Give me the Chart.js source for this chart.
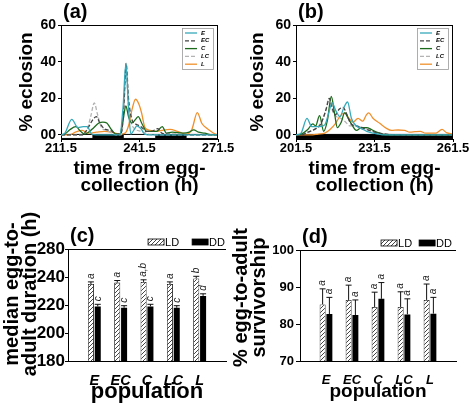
<!DOCTYPE html>
<html>
<head>
<meta charset="utf-8">
<script src="https://cdn.jsdelivr.net/npm/chart.js@4.4.0/dist/chart.umd.min.js"></script>
<style>
  body { margin: 0; background: #fff; }
  .panel { position: absolute; }
</style>
</head>
<body>
<div class="panel" style="left:0px;top:0px;width:235px;height:200px"><canvas id="chartA"></canvas></div>
<div class="panel" style="left:235px;top:0px;width:235px;height:200px"><canvas id="chartB"></canvas></div>
<div class="panel" style="left:0px;top:200px;width:235px;height:203px"><canvas id="chartC"></canvas></div>
<div class="panel" style="left:225px;top:200px;width:245px;height:203px"><canvas id="chartD"></canvas></div>
<script>
// ---- (a) eclosion under LD (hours from egg collection, % eclosion)
var ldHoursE = [211.5, 213, 215.6, 218, 220, 221.5, 223.2, 225, 234, 235.2, 236.3, 237.3, 238.2, 239.5, 240.5, 242, 243.5, 246, 271.5];
var ldEclE   = [0, 1, 8.5, 4, 4.5, 4.5, 0.5, 0, 0, 15, 39, 15, 0.5, 3, 5, 3.5, 0.5, 0, 0];
var ldHoursEC = [211.5, 219.5, 221.5, 223.5, 225, 226.5, 228.5, 230.5, 232.5, 234.5, 235.5, 236.4, 237.3, 238.5, 240, 241.5, 242.5, 244, 246, 248.5, 250, 252, 271.5];
var ldEclEC   = [0, 0, 3, 8, 10, 6, 3, 2.5, 0.5, 1, 15, 39, 20, 9, 6, 5, 4, 2, 2, 3.5, 1, 0.5, 0];
var ldHoursC = [211.5, 213, 215, 217.2, 219, 220.5, 222, 224, 226, 227.5, 229, 230.5, 232.5, 234, 235.2, 236.3, 237.3, 238.5, 240, 241, 242.5, 244.2, 246, 248, 250.2, 251.8, 254, 258, 260.5, 262.2, 264, 266.5, 268.5, 271.5];
var ldEclC   = [0, 0.5, 3, 4.5, 2, 0.5, 1.5, 4, 6.5, 7, 6.5, 3.5, 0.5, 0.5, 8, 15.8, 10, 6.5, 8.5, 10, 6, 2, 2, 2, 4.5, 1, 1.5, 1, 1.5, 2.8, 1.5, 1, 0.2, 0];
var ldHoursLC = [211.5, 219.5, 221.5, 223, 224.2, 225.5, 227, 229, 231, 232.5, 234.5, 235.5, 236.3, 237.3, 238.5, 240, 242, 244, 246, 271.5];
var ldEclLC   = [0, 0, 3, 11, 17.5, 11, 4, 2.5, 1, 0, 0, 12, 36, 15, 6, 3, 2, 1, 0, 0];
var ldHoursL = [211.5, 214.5, 217, 219.5, 222, 225, 228, 231, 234, 236, 237.5, 238.5, 240, 241.2, 242.3, 243.6, 245.5, 248, 250, 253.2, 256, 259.5, 261.5, 263.6, 265.3, 267.2, 269, 270.5, 271.5];
var ldEclL   = [0, 0, 1.5, 2.5, 1, 1.5, 2, 1.5, 0.5, 1, 6, 13, 19.5, 17, 12, 4, 2.5, 2, 2.5, 3, 2, 0.5, 3, 12.2, 6.4, 3.7, 1.8, 0.5, 0];
var ldDark = [[223.5, 235.5], [247.5, 259.5]];
var ldXTicks = [211.5, 241.5, 271.5];

// ---- (b) eclosion under DD
var ddHoursE = [201.5, 203.4, 205.7, 207.5, 210.5, 212.5, 214, 215.3, 216.8, 218.3, 219.8, 221.2, 222.7, 224.5, 226.5, 228.5, 231, 233, 235, 261.5];
var ddEclE   = [0, 1, 9, 4.5, 4.5, 5.5, 12, 17.5, 13, 10, 15, 18, 9, 5, 3.5, 2, 1, 0.5, 0, 0];
var ddHoursEC = [201.5, 203.5, 206, 208.5, 211, 213, 214.3, 215.5, 216.5, 218, 219.5, 221, 222.5, 224.5, 226.5, 228.5, 230.5, 233, 236, 240, 261.5];
var ddEclEC   = [0, 0, 1.5, 3, 6, 14, 20, 14, 11, 14, 15, 11, 6, 5, 4, 3, 2, 1, 0.5, 0, 0];
var ddHoursC = [201.5, 203.5, 206, 207.9, 209, 210.5, 212.1, 213.5, 215, 216.2, 217.3, 218.8, 220.1, 221.5, 222.7, 224.6, 226.5, 228.5, 230.3, 232.3, 234.5, 237, 261.5];
var ddEclC   = [0, 0.5, 3, 6, 5, 10.5, 2, 8, 21, 12, 4, 7, 12, 9, 6, 2.5, 4, 4, 3, 1.5, 0.5, 0, 0];
var ddHoursLC = [201.5, 204, 207, 209.5, 211.5, 213, 214, 215.5, 217, 218.8, 220.5, 222, 223.5, 225.2, 227, 229, 231, 233.5, 236, 261.5];
var ddEclLC   = [0, 0.5, 2, 4, 8, 14, 20, 13, 10, 9, 7, 5, 5, 5, 4, 3, 2, 1, 0.3, 0];
var ddHoursL = [201.5, 207, 210, 212.5, 214.5, 216.5, 218.2, 220.1, 221.8, 223.3, 225.2, 227, 228.4, 229.3, 231, 233.5, 236.1, 238, 240.5, 243, 245, 247, 249, 251, 253, 255, 257.3, 259, 261.5];
var ddEclL   = [0, 0, 0.5, 1, 3, 6, 10, 12, 9, 7, 9, 7.5, 11, 12, 9, 6.4, 3.6, 2.5, 2.7, 2.5, 1.5, 1.8, 2, 1, 1, 1, 3, 1.3, 0.5];
var ddDark = [[201.5, 261.5]];
var ddXTicks = [201.5, 231.5, 261.5];

var eclTicks = [0, 20, 40, 60];
var eclTickLabels = ['00', '20', '40', '60'];

// ---- (c) median egg-to-adult duration (h), (d) % survivorship
var populations = ['E', 'EC', 'C', 'LC', 'L'];
var durLD = [235, 236, 236.5, 235, 239];
var durLDErr = [1.5, 1.5, 1.5, 1.5, 1.5];
var durLDLetters = ['a', 'a', 'a,b', 'a', 'b'];
var durDD = [219, 218, 219, 218, 226.5];
var durDDErr = [1.5, 1.5, 1.5, 1.5, 1.5];
var durDDLetters = ['c', 'c', 'c', 'c', 'd'];
var durTicks = [180, 200, 220, 240, 260];
var durTickLabels = ['180', '200', '220', '240', '280'];

var survLD = [85.3, 86.5, 84.6, 84.6, 86.5];
var survLDErr = [4.2, 4.0, 4.0, 4.1, 4.3];
var survDD = [82.7, 82.4, 86.8, 82.6, 82.8];
var survDDErr = [4.5, 4.1, 4.4, 4.2, 4.4];
var survLetters = ['a', 'a', 'a', 'a', 'a'];
var survTicks = [70, 80, 90, 100];

var popColors = { E: '#35a9ba', EC: '#444444', C: '#1d6a1d', LC: '#b3b3b3', L: '#f0902c' };
var FONT = "'Liberation Sans', Arial, Helvetica, sans-serif";

Chart.defaults.font.family = FONT;
Chart.defaults.color = '#000';

function pts(h, v) {
    return h.map(function (x, i) { return { x: x, y: v[i] }; });
}
function pad(arr) {
    return [null].concat(arr, [null]);
}

function makeHatch() {
    var c = document.createElement('canvas');
    c.width = 4; c.height = 4;
    var g = c.getContext('2d');
    g.fillStyle = '#fff';
    g.fillRect(0, 0, 4, 4);
    g.strokeStyle = '#444';
    g.lineWidth = 1;
    g.beginPath();
    g.moveTo(0, 4); g.lineTo(4, 0);
    g.moveTo(-1, 1); g.lineTo(1, -1);
    g.moveTo(3, 5); g.lineTo(5, 3);
    g.stroke();
    return g.createPattern(c, 'repeat');
}
var hatch = makeHatch();

// light/dark bar under the eclosion curves
const phaseBar = {
    id: 'phaseBar',
    beforeDatasetsDraw(chart, args, opts) {
        const ctx = chart.ctx, x = chart.scales.x, y = chart.scales.y;
        const top = y.getPixelForValue(0.3), bot = y.getPixelForValue(-1.9);
        ctx.save();
        ctx.fillStyle = '#fff';
        ctx.fillRect(x.left, top, x.right - x.left, bot - top);
        ctx.strokeStyle = '#000';
        ctx.lineWidth = 1;
        ctx.strokeRect(x.left + 0.5, top, x.right - x.left - 1, bot - top);
        ctx.fillStyle = '#000';
        opts.dark.forEach(function (p) {
            const a = x.getPixelForValue(p[0]), b = x.getPixelForValue(p[1]);
            ctx.fillRect(a, top, b - a, bot - top);
        });
        ctx.restore();
    }
};

// top / right edges of the plot box
const frame = {
    id: 'frame',
    afterDraw(chart, args, opts) {
        const ctx = chart.ctx, a = chart.chartArea;
        ctx.save();
        ctx.strokeStyle = '#000';
        ctx.lineWidth = 1;
        ctx.beginPath();
        if (opts.top) { ctx.moveTo(a.left, Math.round(a.top) + 0.5); ctx.lineTo(a.right, Math.round(a.top) + 0.5); }
        if (opts.right) { ctx.moveTo(Math.round(a.right) - 0.5, a.top); ctx.lineTo(Math.round(a.right) - 0.5, a.bottom); }
        ctx.stroke();
        ctx.restore();
    }
};

// panel letter, legends, and (for the bar panels) the y title
const decor = {
    id: 'decor',
    afterDraw(chart, args, opts) {
        const ctx = chart.ctx, a = chart.chartArea;
        ctx.save();
        ctx.fillStyle = '#000';
        ctx.font = 'bold 20px ' + FONT;
        ctx.textBaseline = 'middle';
        ctx.textAlign = 'left';
        ctx.fillText(opts.letter, a.left + 2, a.top - 13);

        if (opts.yTitle) {
            const t = opts.yTitle;
            ctx.save();
            ctx.translate(t.x, (a.top + a.bottom) / 2 + t.dy);
            ctx.rotate(-Math.PI / 2);
            ctx.textAlign = 'center';
            ctx.font = 'bold ' + t.size + 'px ' + FONT;
            t.text.forEach(function (line, i) {
                ctx.fillText(line, 0, i * t.lineH);
            });
            ctx.restore();
        }

        if (opts.legend === 'inside') {
            const x0 = a.right - 36, y0 = a.top + 3, w = 31, h = 41;
            ctx.fillStyle = '#fff';
            ctx.fillRect(x0, y0, w, h);
            ctx.strokeStyle = '#999';
            ctx.lineWidth = 0.8;
            ctx.strokeRect(x0 + 0.5, y0 + 0.5, w, h);
            ctx.font = 'italic bold 6px ' + FONT;
            chart.data.datasets.forEach(function (ds, i) {
                const y = y0 + 5 + i * 7.8;
                ctx.strokeStyle = ds.borderColor;
                ctx.lineWidth = 1.3;
                ctx.setLineDash(ds.borderDash || []);
                ctx.beginPath();
                ctx.moveTo(x0 + 3, y);
                ctx.lineTo(x0 + 15, y);
                ctx.stroke();
                ctx.setLineDash([]);
                ctx.fillStyle = '#000';
                ctx.fillText(ds.label, x0 + 19, y);
            });
        } else if (opts.legend === 'top') {
            const y = a.top - 7;
            ctx.font = '11px ' + FONT;
            let right = a.right - opts.inset;
            const items = chart.data.datasets.slice().reverse();
            items.forEach(function (ds) {
                const tw = ctx.measureText(ds.label).width;
                const tx = right - tw;
                ctx.fillStyle = '#000';
                ctx.fillText(ds.label, tx, y + 0.5);
                ctx.fillStyle = ds.backgroundColor;
                ctx.fillRect(tx - 17, y - 3, 16, 6);
                ctx.strokeStyle = '#000';
                ctx.lineWidth = 0.8;
                ctx.strokeRect(tx - 17, y - 3, 16, 6);
                right = tx - 17 - opts.gap;
            });
        }
        ctx.restore();
    }
};

// one-sided error bars with significance letters
const errorBars = {
    id: 'errorBars',
    afterDatasetsDraw(chart) {
        const ctx = chart.ctx, yScale = chart.scales.y;
        ctx.save();
        chart.data.datasets.forEach(function (ds, di) {
            const meta = chart.getDatasetMeta(di);
            meta.data.forEach(function (bar, i) {
                const v = ds.data[i];
                if (v == null) return;
                const top = yScale.getPixelForValue(v + ds.errors[i]);
                const half = bar.width / 2;
                ctx.strokeStyle = '#111';
                ctx.lineWidth = 1;
                ctx.beginPath();
                ctx.moveTo(bar.x, bar.y);
                ctx.lineTo(bar.x, top);
                ctx.moveTo(bar.x - half, top);
                ctx.lineTo(bar.x + half, top);
                ctx.stroke();
                ctx.save();
                ctx.translate(bar.x, top - 3);
                ctx.rotate(-Math.PI / 2);
                ctx.font = 'italic 10px ' + FONT;
                ctx.fillStyle = '#222';
                ctx.textAlign = 'left';
                ctx.textBaseline = 'middle';
                ctx.fillText(ds.letters[i], 0, 0);
                ctx.restore();
            });
        });
        ctx.restore();
    }
};

function lineSet(label, h, v, dashed) {
    return {
        label: label,
        data: pts(h, v),
        borderColor: popColors[label],
        borderWidth: 1.3,
        borderDash: dashed ? [4, 2] : [],
        pointRadius: 0,
        fill: false,
        cubicInterpolationMode: 'monotone'
    };
}

function eclosionChart(id, sets, xMin, xMax, xTicks, dark, letter, yTitlePad) {
    const ctx = document.getElementById(id).getContext('2d');
    return new Chart(ctx, {
        type: 'line',
        data: { datasets: sets },
        plugins: [phaseBar, frame, decor],
        options: {
            responsive: true,
            maintainAspectRatio: false,
            animation: false,
            events: [],
            layout: { padding: { top: 25, right: 17, left: 0, bottom: 0 } },
            plugins: {
                legend: { display: false },
                tooltip: { enabled: false },
                phaseBar: { dark: dark },
                frame: { top: true, right: true },
                decor: { letter: letter, legend: 'inside' }
            },
            scales: {
                x: {
                    type: 'linear',
                    min: xMin,
                    max: xMax,
                    afterBuildTicks: function (s) { s.ticks = xTicks.map(function (v) { return { value: v }; }); },
                    afterFit: function (s) { s.height = 61; },
                    ticks: { font: { size: 13, weight: 'bold', lineHeight: 1 }, padding: 0, maxRotation: 0, autoSkip: false,
                             callback: function (v) { return String(v); } },
                    grid: { drawOnChartArea: false, tickLength: 3, color: '#000' },
                    border: { color: '#000', width: 1 },
                    title: { display: true, text: ['time from egg-', 'collection (h)'],
                             font: { size: 19, weight: 'bold', lineHeight: 0.9 }, padding: { top: 0, bottom: 6 } }
                },
                y: {
                    min: -2.2,
                    max: 60,
                    afterBuildTicks: function (s) { s.ticks = eclTicks.map(function (v) { return { value: v }; }); },
                    afterFit: function (s) { s.width = 61; },
                    ticks: { font: { size: 14, weight: 'bold' }, padding: 2,
                             callback: function (v, i) { return eclTickLabels[i]; } },
                    grid: { drawOnChartArea: false, tickLength: 3, color: '#000' },
                    border: { color: '#000', width: 1 },
                    title: { display: true, text: '% eclosion', font: { size: 19, weight: 'bold', lineHeight: 1 },
                             padding: { top: yTitlePad, bottom: 0 } }
                }
            }
        }
    });
}

function barChart(id, o) {
    const ctx = document.getElementById(id).getContext('2d');
    return new Chart(ctx, {
        type: 'bar',
        data: {
            labels: [''].concat(populations, ['']),
            datasets: [
                { label: 'LD', data: pad(o.ld), errors: pad(o.ldErr), letters: pad(o.ldLetters),
                  backgroundColor: hatch, borderColor: '#000', borderWidth: 0.8,
                  categoryPercentage: 0.52, barPercentage: 0.88 },
                { label: 'DD', data: pad(o.dd), errors: pad(o.ddErr), letters: pad(o.ddLetters),
                  backgroundColor: '#000', borderColor: '#000', borderWidth: 0,
                  categoryPercentage: 0.52, barPercentage: 0.88 }
            ]
        },
        plugins: [errorBars, frame, decor],
        options: {
            responsive: true,
            maintainAspectRatio: false,
            animation: false,
            events: [],
            layout: { padding: { top: o.top, right: o.right, left: 0, bottom: 0 } },
            plugins: {
                legend: { display: false },
                tooltip: { enabled: false },
                frame: { top: true, right: false },
                decor: { letter: o.letter, legend: 'top', gap: o.legendGap, inset: o.legendInset,
                         yTitle: { text: o.yTitle, x: o.yTitleX, dy: o.yTitleDy, size: 20, lineH: 18 } }
            },
            scales: {
                x: {
                    offset: false,
                    afterFit: function (s) { s.height = 42; },
                    ticks: { font: { size: o.xTickSize, weight: 'bold', style: 'italic', lineHeight: 1 },
                             padding: o.xTickPad, maxRotation: 0, autoSkip: false },
                    grid: { display: false, offset: false },
                    border: { color: '#000', width: 1 },
                    title: { display: true, text: 'population', font: { size: o.xTitleSize, weight: 'bold', lineHeight: 1 },
                             padding: { top: 0, bottom: o.xTitlePad } }
                },
                y: {
                    min: o.yMin,
                    max: o.yMax,
                    afterBuildTicks: function (s) { s.ticks = o.yTicks.map(function (v) { return { value: v }; }); },
                    afterFit: function (s) { s.width = o.left; },
                    ticks: { font: { size: o.yTickSize, weight: 'bold' }, padding: o.yTickPad,
                             callback: function (v, i) { return o.yTickLabels[i]; } },
                    grid: { drawOnChartArea: false, tickLength: o.yTickLen, color: '#000' },
                    border: { color: '#000', width: 1 }
                }
            }
        }
    });
}

eclosionChart('chartA', [
    lineSet('E', ldHoursE, ldEclE, false),
    lineSet('EC', ldHoursEC, ldEclEC, true),
    lineSet('C', ldHoursC, ldEclC, false),
    lineSet('LC', ldHoursLC, ldEclLC, true),
    lineSet('L', ldHoursL, ldEclL, false)
], 211.5, 271.5, ldXTicks, ldDark, '(a)', 17);

eclosionChart('chartB', [
    lineSet('E', ddHoursE, ddEclE, false),
    lineSet('EC', ddHoursEC, ddEclEC, true),
    lineSet('C', ddHoursC, ddEclC, false),
    lineSet('LC', ddHoursLC, ddEclLC, true),
    lineSet('L', ddHoursL, ddEclL, false)
], 201.5, 261.5, ddXTicks, ddDark, '(b)', 13);

barChart('chartC', {
    ld: durLD, ldErr: durLDErr, ldLetters: durLDLetters,
    dd: durDD, ddErr: durDDErr, ddLetters: durDDLetters,
    yMin: 180, yMax: 260, yTicks: durTicks, yTickLabels: durTickLabels,
    yTitle: ['median egg-to-', 'adult duration (h)'], yTitleX: 12, yTitleDy: -11,
    letter: '(c)', top: 49, right: 9, left: 68,
    yTickSize: 17, yTickPad: 0, yTickLen: 3,
    xTickSize: 14.5, xTickPad: 5, xTitleSize: 22, xTitlePad: 0,
    legendGap: 13, legendInset: 1
});

barChart('chartD', {
    ld: survLD, ldErr: survLDErr, ldLetters: survLetters,
    dd: survDD, ddErr: survDDErr, ddLetters: survLetters,
    yMin: 70, yMax: 100, yTicks: survTicks, yTickLabels: survTicks.map(String),
    yTitle: ['% egg-to-adult', 'survivorship'], yTitleX: 16, yTitleDy: -8,
    letter: '(d)', top: 50, right: 14, left: 75,
    yTickSize: 13, yTickPad: 2, yTickLen: 4,
    xTickSize: 13, xTickPad: 5, xTitleSize: 19, xTitlePad: 2,
    legendGap: 7, legendInset: 4
});
</script>
</body>
</html>
